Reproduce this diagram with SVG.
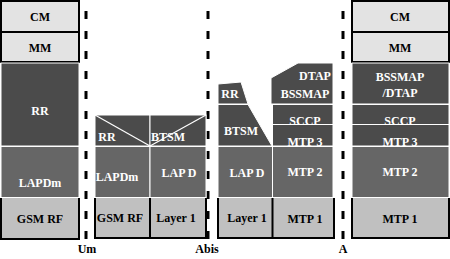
<svg xmlns="http://www.w3.org/2000/svg" width="450" height="259" viewBox="0 0 450 259">
<style>
text{font-family:"Liberation Serif","Times New Roman",serif;font-weight:bold;font-size:12px;text-anchor:middle}
.w{fill:#ffffff}
.k{fill:#000000}
.top{fill:#e3e3e3;stroke:#000;stroke-width:2}
.dk{fill:#4b4b4b;stroke:#fff;stroke-width:1}
.md{fill:#666666;stroke:#fff;stroke-width:1}
.lt{fill:#c0c0c0;stroke:none}
.bd{fill:none;stroke:#000;stroke-width:2}
.sep{stroke:#fff;stroke-width:1.2;fill:none}
.dash{stroke:#000;stroke-width:3;stroke-dasharray:8 12}
</style>
<rect width="450" height="259" fill="#fff"/>
<g id="connectors">
<line class="dash" x1="86" y1="11" x2="86" y2="240"/>
<line class="dash" x1="208" y1="11" x2="208" y2="240"/>
<line class="dash" x1="343" y1="11" x2="343" y2="240"/>
</g>
<!-- MS column -->
<g id="ms-cm"><rect class="top" x="1" y="1" width="78" height="31"/><text class="k" x="40" y="21">CM</text></g>
<g id="ms-mm"><rect class="top" x="1" y="32" width="78" height="30"/><text class="k" x="40" y="52">MM</text></g>
<g id="ms-rr"><rect class="dk" x="1" y="63" width="78" height="83"/><text class="w" x="40" y="115">RR</text></g>
<g id="ms-lapdm"><rect class="md" x="1" y="146.5" width="78" height="51"/><text class="w" x="40" y="187">LAPDm</text></g>
<g id="ms-gsmrf"><rect class="lt" x="1" y="198" width="78" height="41"/><path class="bd" d="M1,198V239H79V198"/><text class="k" x="40" y="223">GSM RF</text></g>
<!-- BTS column -->
<g id="bts-rr"><rect class="dk" x="95" y="115" width="55" height="31"/><line class="sep" x1="95" y1="115" x2="150" y2="146"/><text class="w" x="107" y="141">RR</text></g>
<g id="bts-btsm"><rect class="dk" x="150" y="115" width="56" height="31"/><line class="sep" x1="206" y1="115" x2="150" y2="146"/><text class="w" x="168" y="141">BTSM</text></g>
<g id="bts-lapdm"><rect class="md" x="95" y="146.5" width="55" height="51"/><text class="w" x="117" y="181">LAPDm</text></g>
<g id="bts-lapd"><rect class="md" x="150" y="146.5" width="56" height="51"/><text class="w" x="179" y="177">LAP D</text></g>
<g id="bts-gsmrf"><rect class="lt" x="95" y="198" width="55" height="40"/><text class="k" x="120" y="222">GSM RF</text></g>
<g id="bts-layer1"><rect class="lt" x="150" y="198" width="56" height="40"/><text class="k" x="176" y="222">Layer 1</text></g>
<path class="bd" d="M95,198V238H206V198M150,198V238"/>
<!-- BSC column -->
<g id="bsc-rr"><polygon class="dk" points="218,84 241,82 248,104 218,104"/><text class="w" x="230" y="98">RR</text></g>
<g id="bsc-btsm"><polygon class="dk" points="218,104.5 248,104.5 272,146 218,146"/><text class="w" x="241" y="135">BTSM</text></g>
<g id="bsc-lapd"><rect class="md" x="218" y="146.5" width="54.5" height="51"/><text class="w" x="247" y="177">LAP D</text></g>
<g id="bsc-layer1"><rect class="lt" x="218" y="198" width="54.5" height="40"/><text class="k" x="247" y="222">Layer 1</text></g>
<g id="bsc-dtap"><polygon class="dk" points="271,78 298,63 333,63 333,104 271,104"/><text class="w" x="315" y="80">DTAP</text><text class="w" x="305" y="98">BSSMAP</text></g>
<g id="bsc-sccp"><rect class="dk" x="272.5" y="104.5" width="60.5" height="20"/><text class="w" x="305" y="125">SCCP</text></g>
<g id="bsc-mtp3"><rect class="dk" x="272.5" y="124.5" width="60.5" height="21.5"/><text class="w" x="305" y="146">MTP 3</text></g>
<g id="bsc-mtp2"><rect class="md" x="272.5" y="146.5" width="60.5" height="51"/><text class="w" x="305" y="176">MTP 2</text></g>
<g id="bsc-mtp1"><rect class="lt" x="272.5" y="198" width="60.5" height="40"/><text class="k" x="305" y="223">MTP 1</text></g>
<path class="bd" d="M218,198V238H334V198M272.5,198V238"/>
<!-- MSC column -->
<g id="msc-cm"><rect class="top" x="352" y="1" width="97" height="31"/><text class="k" x="400" y="21">CM</text></g>
<g id="msc-mm"><rect class="top" x="352" y="32" width="97" height="30"/><text class="k" x="400" y="52">MM</text></g>
<g id="msc-bssmap"><rect class="dk" x="352" y="63" width="97" height="41"/><text class="w" x="400" y="81">BSSMAP</text><text class="w" x="400" y="97">/DTAP</text></g>
<g id="msc-sccp"><rect class="dk" x="352" y="104.5" width="97" height="20"/><text class="w" x="400" y="125">SCCP</text></g>
<g id="msc-mtp3"><rect class="dk" x="352" y="124.5" width="97" height="21.5"/><text class="w" x="400" y="146">MTP 3</text></g>
<g id="msc-mtp2"><rect class="md" x="352" y="146.5" width="97" height="51"/><text class="w" x="400" y="176">MTP 2</text></g>
<g id="msc-mtp1"><rect class="lt" x="352" y="198" width="97" height="40"/><path class="bd" d="M352,198V238H449V198"/><text class="k" x="400" y="223">MTP 1</text></g>
<!-- interface labels -->
<g id="lbl-um"><text class="k" x="87" y="253">Um</text></g>
<g id="lbl-abis"><text class="k" x="207" y="253">Abis</text></g>
<g id="lbl-a"><text class="k" x="343" y="253">A</text></g>
</svg>
